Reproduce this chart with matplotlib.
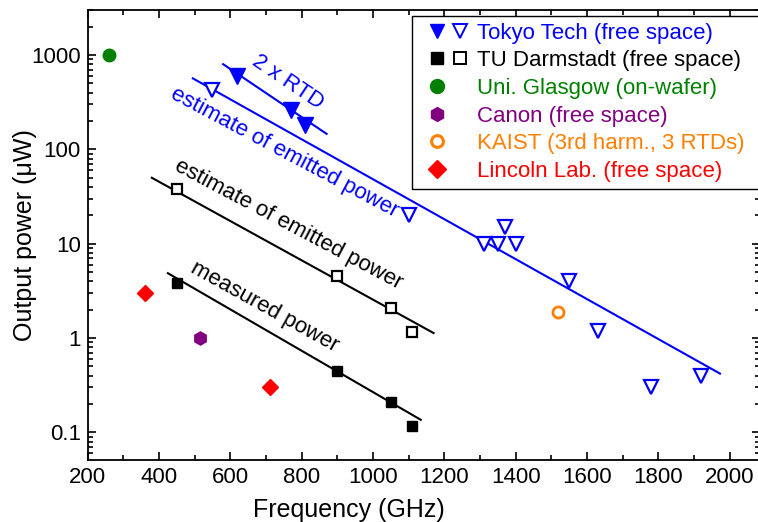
import numpy as np
import matplotlib
matplotlib.use("Agg")
from matplotlib import pyplot as plt
from matplotlib.ticker import MultipleLocator, LogLocator, FixedLocator
from matplotlib.legend_handler import HandlerTuple
from matplotlib.lines import Line2D
from matplotlib.patches import Rectangle

plt.rcParams["font.family"] = ["Liberation Sans", "DejaVu Sans"]

# Tokyo Tech, 2 x RTD (filled)
tokyo_2rtd_f = [620, 770, 810]
tokyo_2rtd_p = [600, 260, 180]
tokyo_2rtd_line_f = [580, 870]
tokyo_2rtd_line_p = [800, 146]

# Tokyo Tech, estimate of emitted power (open)
tokyo_f = [548, 1100, 1310, 1350, 1370, 1400, 1550, 1630, 1780, 1920]
tokyo_p = [425, 20, 10, 10, 15, 10, 4, 1.2, 0.3, 0.4]
tokyo_line_f = [495, 1973]
tokyo_line_p = [566, 0.42]

# TU Darmstadt
tud_est_f = [450, 900, 1050, 1110]
tud_est_p = [38, 4.5, 2.1, 1.17]
tud_est_line_f = [380, 1170]
tud_est_line_p = [50, 1.13]
tud_meas_f = [450, 900, 1050, 1110]
tud_meas_p = [3.8, 0.45, 0.21, 0.116]
tud_meas_line_f = [425, 1134]
tud_meas_line_p = [4.87, 0.136]

glasgow_f, glasgow_p = [260], [1000]
canon_f, canon_p = [515], [1.0]
kaist_f, kaist_p = [1520], [1.9]
lincoln_f = [360, 710]
lincoln_p = [3.0, 0.30]

BLUE = "#0000ff"
GREEN = "#008000"
PURPLE = "#800080"
ORANGE = "#ff8000"
RED = "#ff0000"

fig = plt.figure(figsize=(7.58, 5.22), dpi=100)
ax = fig.add_axes([0.1156, 0.1188, 0.887, 0.862])

# fit lines
ax.plot(tokyo_2rtd_line_f, tokyo_2rtd_line_p, color=BLUE, lw=1.5)
ax.plot(tokyo_line_f, tokyo_line_p, color=BLUE, lw=1.5)
ax.plot(tud_est_line_f, tud_est_line_p, color="black", lw=1.5)
ax.plot(tud_meas_line_f, tud_meas_line_p, color="black", lw=1.5)

# points
ax.plot(tokyo_2rtd_f, tokyo_2rtd_p, "v", color=BLUE, ms=11, ls="none")
ax.plot(tokyo_f, tokyo_p, "v", mfc="white", mec=BLUE, mew=1.6, ms=9.5, ls="none")
ax.plot(tud_meas_f, tud_meas_p, "s", color="black", ms=7.5, ls="none")
ax.plot(tud_est_f, tud_est_p, "s", mfc="white", mec="black", mew=1.6, ms=7, ls="none")
ax.plot(glasgow_f, glasgow_p, "o", color=GREEN, ms=9, ls="none")
ax.plot(canon_f, canon_p, "h", color=PURPLE, ms=9.5, ls="none")
ax.plot(kaist_f, kaist_p, "o", mfc="white", mec=ORANGE, mew=2, ms=8, ls="none")
ax.plot(lincoln_f, lincoln_p, "D", color=RED, ms=8, ls="none")

# annotations
ax.text(762, 520, "2 x RTD", color=BLUE, fontsize=16, rotation=-34,
        ha="center", va="center", rotation_mode="anchor")
ax.text(751, 92, "estimate of emitted power", color=BLUE, fontsize=16,
        rotation=-28, ha="center", va="center", rotation_mode="anchor")
ax.text(762, 15.8, "estimate of emitted power", color="black", fontsize=16,
        rotation=-28, ha="center", va="center", rotation_mode="anchor")
ax.text(697, 2.14, "measured power", color="black", fontsize=16,
        rotation=-29, ha="center", va="center", rotation_mode="anchor")

ax.set_yscale("log")
ax.set_xlim(200, 2085)
ax.set_ylim(0.051, 3000)
ax.xaxis.set_major_locator(MultipleLocator(200))
ax.xaxis.set_minor_locator(MultipleLocator(100))
ax.yaxis.set_major_locator(FixedLocator([0.1, 1, 10, 100, 1000]))
ax.yaxis.set_minor_locator(LogLocator(base=10, subs=np.arange(2, 10)))
ax.set_yticklabels(["0.1", "1", "10", "100", "1000"])
ax.tick_params(which="both", direction="in", top=True, right=True,
               labelsize=16, width=1.2)
ax.tick_params(which="major", length=5.5, pad=5)
ax.tick_params(which="minor", length=3.5)
for s in ax.spines.values():
    s.set_linewidth(1.3)

ax.set_xlabel("Frequency (GHz)", fontsize=18)
ax.xaxis.set_label_coords(0.388, -0.085)
ax.set_ylabel("Output power (\u03bcW)", fontsize=18, labelpad=-4)

# legend (markers sit at the left slot, as in the original)
empty = Line2D([], [], ls="none")
h_tokyo = (Line2D([], [], marker="v", color=BLUE, ms=10, ls="none"),
           Line2D([], [], marker="v", mfc="white", mec=BLUE, mew=1.4, ms=10, ls="none"))
h_tud = (Line2D([], [], marker="s", color="black", ms=8, ls="none"),
         Line2D([], [], marker="s", mfc="white", mec="black", mew=1.4, ms=8, ls="none"))
h_gla = (Line2D([], [], marker="o", color=GREEN, ms=10, ls="none"), empty)
h_can = (Line2D([], [], marker="h", color=PURPLE, ms=10, ls="none"), empty)
h_kai = (Line2D([], [], marker="o", mfc="white", mec=ORANGE, mew=2.2, ms=8.5, ls="none"), empty)
h_lin = (Line2D([], [], marker="D", color=RED, ms=9, ls="none"), empty)
labels = ["Tokyo Tech (free space)", "TU Darmstadt (free space)",
          "Uni. Glasgow (on-wafer)", "Canon (free space)",
          "KAIST (3rd harm., 3 RTDs)", "Lincoln Lab. (free space)"]
colors = [BLUE, "black", GREEN, PURPLE, ORANGE, RED]
leg = ax.legend([h_tokyo, h_tud, h_gla, h_can, h_kai, h_lin], labels,
                handler_map={tuple: HandlerTuple(ndivide=None, pad=0)},
                loc="upper right", bbox_to_anchor=(0.987, 0.987),
                borderaxespad=0, fontsize=16, frameon=False,
                labelspacing=0.3, handlelength=2.07, handletextpad=0.25,
                borderpad=0.3)
for t, c in zip(leg.get_texts(), colors):
    t.set_color(c)

# frame runs off the right edge like in the original
fig.canvas.draw()
bb = leg.get_window_extent()
W, H = fig.bbox.width, fig.bbox.height
x0 = bb.x0 - 7
frame = Rectangle((x0 / W, bb.y0 / H), (W + 10 - x0) / W, bb.height / H,
                  transform=fig.transFigure, clip_on=False, facecolor="white",
                  edgecolor="black", lw=1.0, zorder=leg.get_zorder() - 0.1)
ax.add_patch(frame)

fig.savefig("out.png", dpi=100)
